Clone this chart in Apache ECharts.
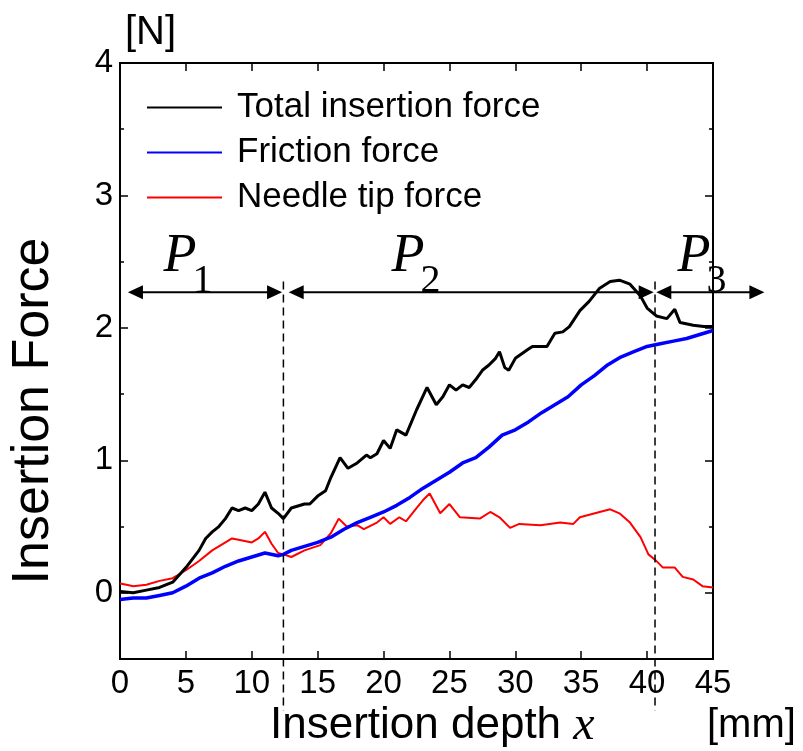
<!DOCTYPE html>
<html>
<head>
<meta charset="utf-8">
<title>Insertion force</title>
<script src="https://cdn.jsdelivr.net/npm/echarts@6/dist/echarts.min.js"></script>
</head>
<body style="margin:0;background:#fff">
<div id="main" style="width:803px;height:751px"></div>
<script>
// [depth mm, force N]
var totalForce = [[0,0.01],[1,0.0],[2,0.02],[3,0.04],[4,0.08],[5,0.19],[6,0.32],[6.5,0.41],[7,0.46],[7.5,0.5],
  [8,0.56],[8.5,0.64],[9,0.62],[9.5,0.64],[10,0.62],[10.5,0.67],[11,0.76],[11.5,0.64],[12,0.6],[12.4,0.56],
  [13,0.64],[14,0.67],[14.4,0.67],[15,0.73],[15.6,0.77],[16,0.87],[16.7,1.02],[17.3,0.94],[18,0.98],[18.7,1.04],
  [19,1.02],[19.5,1.05],[20,1.15],[20.5,1.09],[21,1.23],[21.7,1.19],[22.5,1.38],[23.3,1.55],[24,1.42],[24.5,1.48],
  [25,1.57],[25.5,1.53],[26,1.57],[26.5,1.55],[27,1.61],[27.5,1.68],[28,1.72],[28.5,1.77],[28.8,1.82],[29.2,1.7],
  [29.5,1.68],[30,1.77],[31,1.84],[31.3,1.86],[32.4,1.86],[33,1.96],[33.6,1.97],[34.1,2.01],[34.9,2.13],[35.6,2.2],
  [36.4,2.3],[37.2,2.35],[37.9,2.36],[38.7,2.33],[39.5,2.24],[40,2.15],[40.7,2.09],[41.5,2.07],[42.1,2.14],[42.5,2.04],
  [43.5,2.02],[44.3,2.01],[45,2.01]];
var frictionForce = [[0,-0.05],[1,-0.04],[2,-0.04],[3,-0.02],[4,0.0],[5,0.05],[6,0.11],[7,0.15],[8,0.2],[9,0.24],
  [10,0.27],[11,0.3],[12,0.28],[12.4,0.29],[13,0.32],[14,0.35],[15,0.38],[16,0.42],[17,0.48],[18,0.53],
  [19,0.57],[20,0.61],[21,0.66],[22,0.72],[23,0.79],[24,0.85],[25,0.91],[26,0.98],[27,1.02],[28,1.1],
  [29,1.19],[30,1.23],[31,1.29],[32,1.36],[33,1.42],[34,1.48],[35,1.57],[36,1.64],[37,1.72],[38,1.78],
  [39,1.82],[40,1.86],[41,1.88],[42,1.9],[43,1.92],[44,1.95],[45,1.98]];
var tipForce = [[0,0.07],[0.5,0.06],[1,0.05],[2,0.06],[3,0.09],[4,0.11],[5,0.17],[6,0.24],[7,0.32],[8,0.38],
  [8.5,0.41],[9,0.4],[10,0.38],[10.5,0.41],[11,0.46],[11.5,0.37],[12,0.3],[12.4,0.29],[13,0.27],[14,0.32],
  [15.2,0.36],[16,0.45],[16.6,0.56],[17.2,0.5],[18,0.51],[18.5,0.48],[19.5,0.53],[20,0.57],[20.5,0.52],[21.2,0.57],
  [21.7,0.54],[22.5,0.64],[23,0.7],[23.5,0.75],[24.3,0.6],[25,0.67],[25.8,0.57],[27.3,0.56],[28.1,0.61],[28.8,0.57],
  [29.6,0.49],[30.3,0.52],[31.9,0.51],[32.6,0.52],[33.4,0.53],[34.4,0.52],[34.9,0.57],[36.4,0.61],[37.2,0.63],[37.9,0.6],
  [38.7,0.53],[39.5,0.42],[40.1,0.29],[40.6,0.25],[41.2,0.19],[42.1,0.19],[42.7,0.12],[43.5,0.1],[44.2,0.05],[45,0.04]];

var seriesNames = ['Total insertion force', 'Friction force', 'Needle tip force'];
var yLabels = [0, 1, 2, 3, 4];
var yMinor = [0.5, 1.5, 2.5, 3.5];
// phase boundaries and arrows (depth mm)
var phaseBounds = [12.4, 40.6];
var phaseArrows = [[0.6, 12.3], [12.8, 40.5], [40.7, 48.9]];
var phaseLabels = [['P', '1', 3.3], ['P', '2', 20.6], ['P', '3', 42.3]];
var arrowLevel = 2.27;

var font = 'Liberation Sans, Arial, sans-serif';
var serif = 'Liberation Serif, Times New Roman, serif';

var myChart = echarts.init(document.getElementById('main'));

function yAx(pos, ticks, len, labels) {
  return {
    type: 'value', position: pos, min: -0.5, max: 4, interval: 0.5,
    axisLine: { show: true, onZero: false, lineStyle: { color: '#000', width: 2 } },
    axisTick: { show: true, inside: true, length: len, customValues: ticks, lineStyle: { color: '#000', width: 1.5 } },
    axisLabel: labels ? { show: true, customValues: yLabels, margin: 7, color: '#000', fontSize: 33, fontFamily: font } : { show: false },
    splitLine: { show: false }
  };
}

var option = {
  backgroundColor: '#fff',
  animation: false,
  grid: { left: 120, top: 63, right: 90, bottom: 92 },
  legend: {
    data: seriesNames,
    orient: 'vertical', left: 142, top: 85,
    icon: 'rect', itemWidth: 75, itemHeight: 2, itemGap: 10,
    textStyle: { fontSize: 35, lineHeight: 35, color: '#000', fontFamily: font, padding: [0, 0, 0, 10] }
  },
  xAxis: [
    {
      type: 'value', min: 0, max: 45, interval: 5, position: 'bottom',
      axisLine: { onZero: false, lineStyle: { color: '#000', width: 2 } },
      axisTick: { inside: true, length: 8, lineStyle: { color: '#000', width: 1.5 } },
      axisLabel: { margin: 8, color: '#000', fontSize: 33, fontFamily: font },
      splitLine: { show: false }
    },
    {
      type: 'value', min: 0, max: 45, interval: 5, position: 'top',
      axisLine: { onZero: false, lineStyle: { color: '#000', width: 2 } },
      axisTick: { inside: true, length: 8, lineStyle: { color: '#000', width: 1.5 } },
      axisLabel: { show: false },
      splitLine: { show: false }
    }
  ],
  yAxis: [
    yAx('left', yLabels, 8, true),
    yAx('left', yMinor, 4, false),
    yAx('right', yLabels, 8, false),
    yAx('right', yMinor, 4, false)
  ],
  series: [
    { name: seriesNames[2], type: 'line', data: tipForce, showSymbol: false, symbol: 'none',
      lineStyle: { color: '#ff0000', width: 2 }, itemStyle: { color: '#ff0000' }, z: 2 },
    { name: seriesNames[1], type: 'line', data: frictionForce, showSymbol: false, symbol: 'none',
      lineStyle: { color: '#0000ff', width: 3.5 }, itemStyle: { color: '#0000ff' }, z: 3 },
    { name: seriesNames[0], type: 'line', data: totalForce, showSymbol: false, symbol: 'none',
      lineStyle: { color: '#000000', width: 3 }, itemStyle: { color: '#000000' }, z: 4 }
  ]
};
myChart.setOption(option);

// annotations placed through the chart's own coordinate conversion
function px(x, y) { return myChart.convertToPixel({ seriesIndex: 0 }, [x, y]); }
var els = [];
phaseBounds.forEach(function (b) {
  var t = px(b, 2.35), d = px(b, -0.89);
  els.push({ type: 'line', z: 20, shape: { x1: t[0], y1: t[1], x2: d[0], y2: d[1] },
    style: { stroke: '#000', lineWidth: 1.5, lineDash: [8, 5] } });
});
phaseArrows.forEach(function (a) {
  var p = px(a[0], arrowLevel), q = px(a[1], arrowLevel), h = 15, w = 7;
  els.push({ type: 'line', z: 20, shape: { x1: p[0] + h - 2, y1: p[1], x2: q[0] - h + 2, y2: q[1] },
    style: { stroke: '#000', lineWidth: 2 } });
  els.push({ type: 'polygon', z: 20, shape: { points: [[p[0], p[1]], [p[0] + h, p[1] - w], [p[0] + h, p[1] + w]] },
    style: { fill: '#000' } });
  els.push({ type: 'polygon', z: 20, shape: { points: [[q[0], q[1]], [q[0] - h, q[1] - w], [q[0] - h, q[1] + w]] },
    style: { fill: '#000' } });
});
phaseLabels.forEach(function (l) {
  var p = px(l[2], arrowLevel);
  els.push({ type: 'text', z: 21, style: { x: p[0], y: p[1] - 35, text: l[0], fill: '#000',
    font: 'italic 54px ' + serif, textAlign: 'left', textVerticalAlign: 'middle' } });
  els.push({ type: 'text', z: 21, style: { x: p[0] + 29, y: p[1] - 11, text: l[1], fill: '#000',
    font: '40px ' + serif, textAlign: 'left', textVerticalAlign: 'middle' } });
});
// axis titles and units
els.push({ type: 'text', style: { x: 125, y: 33, text: '[N]', fill: '#000', font: '40px ' + font,
  textAlign: 'left', textVerticalAlign: 'middle' } });
els.push({ type: 'text', x: 34, y: 411, rotation: Math.PI / 2, style: { x: 0, y: 0, text: 'Insertion Force', fill: '#000',
  font: '52px ' + font, textAlign: 'center', textVerticalAlign: 'middle' } });
els.push({ type: 'text', style: { x: 270, y: 726, text: '{a|Insertion depth }{b|x}', fill: '#000',
  textAlign: 'left', textVerticalAlign: 'middle',
  rich: { a: { fontSize: 44, fontFamily: font, fill: '#000' },
          b: { fontSize: 48, fontFamily: serif, fontStyle: 'italic', fill: '#000' } } } });
els.push({ type: 'text', style: { x: 707, y: 726, text: '[mm]', fill: '#000', font: '40px ' + font,
  textAlign: 'left', textVerticalAlign: 'middle' } });
myChart.setOption({ graphic: els });
</script>
</body>
</html>
